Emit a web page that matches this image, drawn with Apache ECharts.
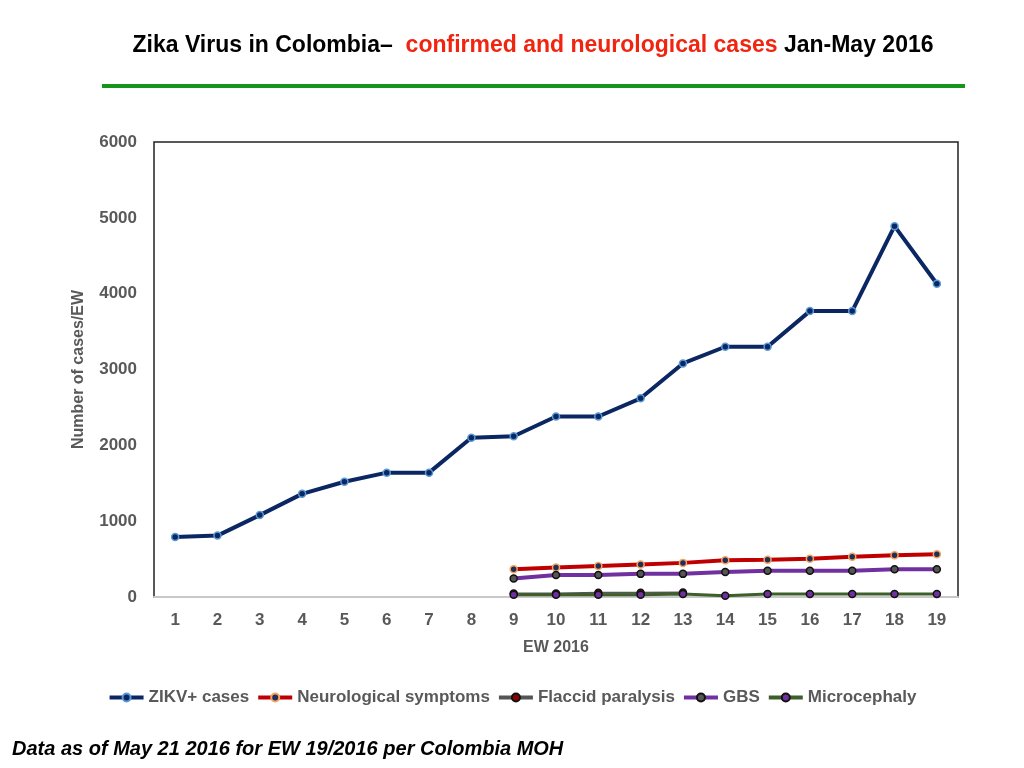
<!DOCTYPE html>
<html>
<head>
<meta charset="utf-8">
<title>Zika Virus in Colombia</title>
<script src="https://cdn.jsdelivr.net/npm/echarts@6/dist/echarts.min.js"></script>
<style>
  html, body { margin: 0; padding: 0; background: #fff; }
  #chart { width: 1024px; height: 768px; }
</style>
</head>
<body>
<div id="chart"></div>
<script>
// epidemiological weeks 2016
var weeks = ['1','2','3','4','5','6','7','8','9','10','11','12','13','14','15','16','17','18','19'];
var yTicks = [0, 1000, 2000, 3000, 4000, 5000, 6000];

// values
var zikv = [790, 810, 1080, 1360, 1520, 1640, 1640, 2100, 2120, 2380, 2380, 2620, 3080, 3300, 3300, 3770, 3770, 4890, 4130];
var neuro = [null, null, null, null, null, null, null, null, 365, 390, 410, 430, 450, 485, 490, 505, 530, 550, 565];
var flaccid = [null, null, null, null, null, null, null, null, 45, 45, 55, 55, 60, null, null, null, null, null, null];
var gbs = [null, null, null, null, null, null, null, null, 245, 290, 290, 305, 305, 330, 345, 345, 345, 365, 365];
var micro = [null, null, null, null, null, null, null, null, 30, 30, 30, 30, 40, 15, 40, 40, 40, 40, 40];

var gray = '#595959';
var font = 'Liberation Sans, Arial, sans-serif';

function line(name, data, color, width, fill, border) {
  return {
    name: name,
    type: 'line',
    data: data,
    connectNulls: false,
    symbol: 'circle',
    symbolSize: 7,
    lineStyle: { color: color, width: width },
    itemStyle: { color: fill, borderColor: border, borderWidth: 1.5 },
    emphasis: { disabled: true }
  };
}

var chart = echarts.init(document.getElementById('chart'));
chart.setOption({
  animation: false,
  textStyle: { fontFamily: font },
  grid: {
    left: 154, top: 142, right: 66, bottom: 171,
    show: true, borderColor: '#222', borderWidth: 1.5, backgroundColor: '#fff'
  },
  graphic: [
    {
      type: 'text', x: 533, y: 46,
      style: {
        text: '{k|Zika Virus in Colombia–  }{r|confirmed and neurological cases}{k| Jan-May 2016}',
        align: 'center', verticalAlign: 'middle',
        rich: {
          k: { fontSize: 23, fontWeight: 'bold', fill: '#000', fontFamily: font },
          r: { fontSize: 23, fontWeight: 'bold', fill: '#f0240f', fontFamily: font }
        }
      }
    },
    {
      type: 'rect', shape: { x: 102, y: 84, width: 863, height: 4 },
      style: { fill: '#15951c' }
    },
    {
      type: 'text', left: 12, top: 739,
      style: {
        text: 'Data as of May 21 2016 for EW 19/2016 per Colombia MOH',
        font: 'italic bold 20px ' + font, fill: '#000'
      }
    }
  ],
  legend: {
    bottom: 57,
    left: 'center',
    itemWidth: 34,
    itemHeight: 10,
    itemGap: 7,
    textStyle: { color: gray, fontSize: 17, fontWeight: 'bold' },
    lineStyle: { width: 4 },
    data: ['ZIKV+ cases', 'Neurological symptoms', 'Flaccid paralysis', 'GBS', 'Microcephaly']
  },
  xAxis: {
    type: 'category',
    data: weeks,
    name: 'EW 2016',
    nameLocation: 'middle',
    nameGap: 43,
    nameTextStyle: { color: gray, fontSize: 16, fontWeight: 'bold' },
    axisLine: { lineStyle: { color: '#c8c8c8', width: 2 } },
    axisTick: { show: false },
    axisLabel: { color: gray, fontSize: 17, fontWeight: 'bold', margin: 15 },
    splitLine: { show: false }
  },
  yAxis: {
    type: 'value',
    min: yTicks[0], max: yTicks[yTicks.length - 1], interval: yTicks[1] - yTicks[0],
    name: 'Number of cases/EW',
    nameLocation: 'middle',
    nameGap: 67,
    nameTextStyle: { color: gray, fontSize: 16, fontWeight: 'bold' },
    axisLine: { show: false },
    axisTick: { show: false },
    axisLabel: { color: gray, fontSize: 17, fontWeight: 'bold', margin: 17, formatter: function (v) { return String(v); } },
    splitLine: { show: false }
  },
  series: [
    line('ZIKV+ cases', zikv, '#0b2763', 4, '#0b2763', '#5b9bd5'),
    line('Neurological symptoms', neuro, '#c00000', 4, '#1f2f5a', '#f4a460'),
    line('Flaccid paralysis', flaccid, '#555555', 2, '#8b0000', '#111'),
    line('GBS', gbs, '#7030a0', 4, '#555555', '#111'),
    line('Microcephaly', micro, '#3d5f2a', 3, '#7030a0', '#111')
  ]
});
</script>
</body>
</html>
